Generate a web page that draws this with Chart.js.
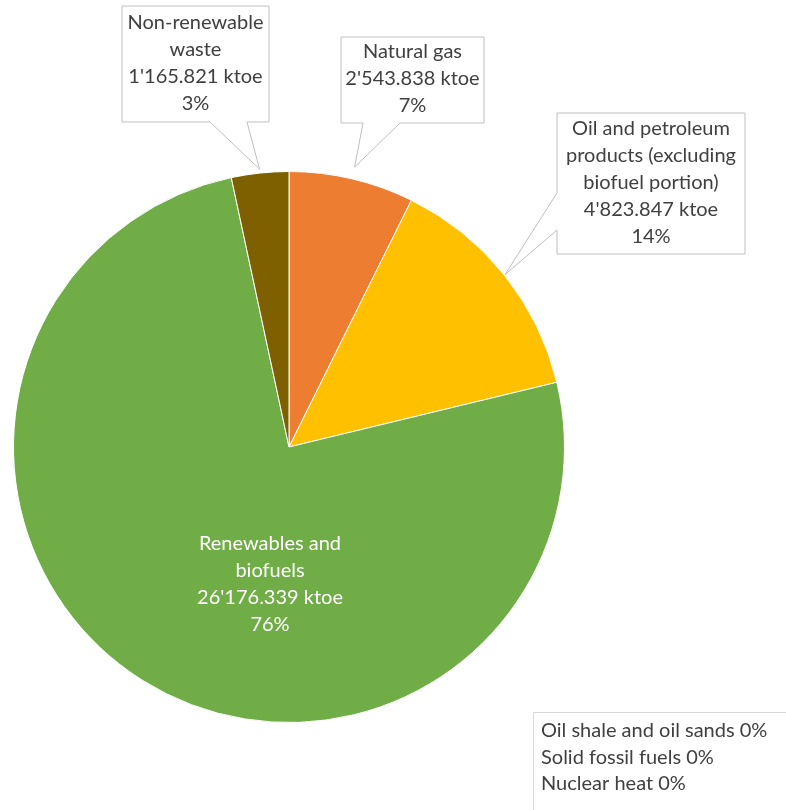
<!DOCTYPE html>
<html>
<head>
<meta charset="utf-8">
<script src="https://cdn.jsdelivr.net/npm/chart.js@4.4.0/dist/chart.umd.min.js"></script>
<style>
html, body { margin: 0; padding: 0; background: #fff; }
#wrap { width: 786px; height: 810px; }
</style>
</head>
<body>
<div id="wrap"><canvas id="energy_pie" width="786" height="810"></canvas></div>
<script>
/* data */
var labels = ['Natural gas', 'Oil and petroleum products (excluding biofuel portion)', 'Renewables and biofuels', 'Non-renewable waste', 'Oil shale and oil sands', 'Solid fossil fuels', 'Nuclear heat'];
var labelLines = [['Natural gas'], ['Oil and petroleum', 'products (excluding', 'biofuel portion)'], ['Renewables and', 'biofuels'], ['Non-renewable', 'waste'], [], [], []];
var values = [2543.838, 4823.847, 26176.339, 1165.821, 0, 0, 0];
var percents = [7, 14, 76, 3, 0, 0, 0];
var colors = ['#ED7D31', '#FFC000', '#70AD47', '#7F6000', '#5B9BD5', '#A5A5A5', '#4472C4'];
var zeroNote = [4, 5, 6];

var FONT = 'Lato, "Open Sans", sans-serif';
var fontSize = 20;
var lineH = 27;
var textColor = '#404040';

function fmtKtoe(v){
    var s = v.toFixed(3).split('.');
    var intPart = s[0].replace(/\B(?=(\d{3})+(?!\d))/g, "'");
    return intPart + '.' + s[1] + ' ktoe';
}
function labelText(i){
    return labelLines[i].concat([fmtKtoe(values[i]), percents[i] + '%']);
}

/* callout boxes: box rect, side of the wedge, wedge base, gap past the rim */
var callouts = [
    {index: 3, x: 122, y: 6, w: 147, h: 116, side: 'bottom', base: [210, 247], gap: 4},
    {index: 0, x: 341, y: 37, w: 143, h: 86, side: 'bottom', base: [363, 400], gap: 12},
    {index: 1, x: 557, y: 113, w: 188, h: 141, side: 'left', base: [193, 230], gap: 1}
];

var calloutPlugin = {
    id: 'calloutPlugin',
    afterDraw: function(chart){
        var ctx = chart.ctx;
        var meta = chart.getDatasetMeta(0);
        ctx.save();
        ctx.font = fontSize + 'px ' + FONT;
        ctx.textAlign = 'center';
        ctx.textBaseline = 'middle';
        callouts.forEach(function(c){
            var arc = meta.data[c.index];
            var mid = (arc.startAngle + arc.endAngle) / 2;
            var R = arc.outerRadius + c.gap;
            var tx = arc.x + Math.cos(mid) * R;
            var ty = arc.y + Math.sin(mid) * R;
            ctx.beginPath();
            if (c.side == 'bottom') {
                ctx.moveTo(c.x, c.y);
                ctx.lineTo(c.x + c.w, c.y);
                ctx.lineTo(c.x + c.w, c.y + c.h);
                ctx.lineTo(c.base[1], c.y + c.h);
                ctx.lineTo(tx, ty);
                ctx.lineTo(c.base[0], c.y + c.h);
                ctx.lineTo(c.x, c.y + c.h);
            } else {
                ctx.moveTo(c.x, c.y);
                ctx.lineTo(c.x + c.w, c.y);
                ctx.lineTo(c.x + c.w, c.y + c.h);
                ctx.lineTo(c.x, c.y + c.h);
                ctx.lineTo(c.x, c.base[1]);
                ctx.lineTo(tx, ty);
                ctx.lineTo(c.x, c.base[0]);
            }
            ctx.closePath();
            ctx.fillStyle = '#fff';
            ctx.fill();
            ctx.strokeStyle = '#BFBFBF';
            ctx.lineWidth = 1;
            ctx.stroke();
            var lines = labelText(c.index);
            var y0 = c.y + c.h / 2 - (lines.length - 1) * lineH / 2 - 1;
            ctx.fillStyle = textColor;
            lines.forEach(function(t, k){
                ctx.fillText(t, c.x + c.w / 2, y0 + k * lineH);
            });
        });
        /* label inside the big slice */
        var big = meta.data[2];
        var inner = labelText(2);
        var iy0 = big.y + 137 - (inner.length - 1) * lineH / 2;
        ctx.fillStyle = '#fff';
        inner.forEach(function(t, k){
            ctx.fillText(t, big.x - 19, iy0 + k * lineH);
        });
        /* zero-value categories */
        ctx.beginPath();
        ctx.rect(533.5, 712.5, 270, 110);
        ctx.fillStyle = '#fff';
        ctx.fill();
        ctx.strokeStyle = '#D9D9D9';
        ctx.stroke();
        ctx.textAlign = 'left';
        ctx.fillStyle = textColor;
        zeroNote.forEach(function(i, k){
            ctx.fillText(labels[i] + ' ' + percents[i] + '%', 541, 731 + k * 26.5);
        });
        ctx.restore();
    }
};

var ctx = document.getElementById('energy_pie').getContext('2d');
var energyChart = new Chart(ctx, {
    type: 'pie',
    data: {
        labels: labels,
        datasets: [{
            data: values,
            backgroundColor: colors,
            borderColor: '#FFFFFF',
            borderWidth: 1
        }]
    },
    options: {
        responsive: false,
        animation: false,
        layout: {
            padding: { left: 13, right: 221, top: 171, bottom: 87 }
        },
        plugins: {
            legend: { display: false },
            tooltip: { enabled: false }
        }
    },
    plugins: [calloutPlugin]
});
</script>
</body>
</html>
